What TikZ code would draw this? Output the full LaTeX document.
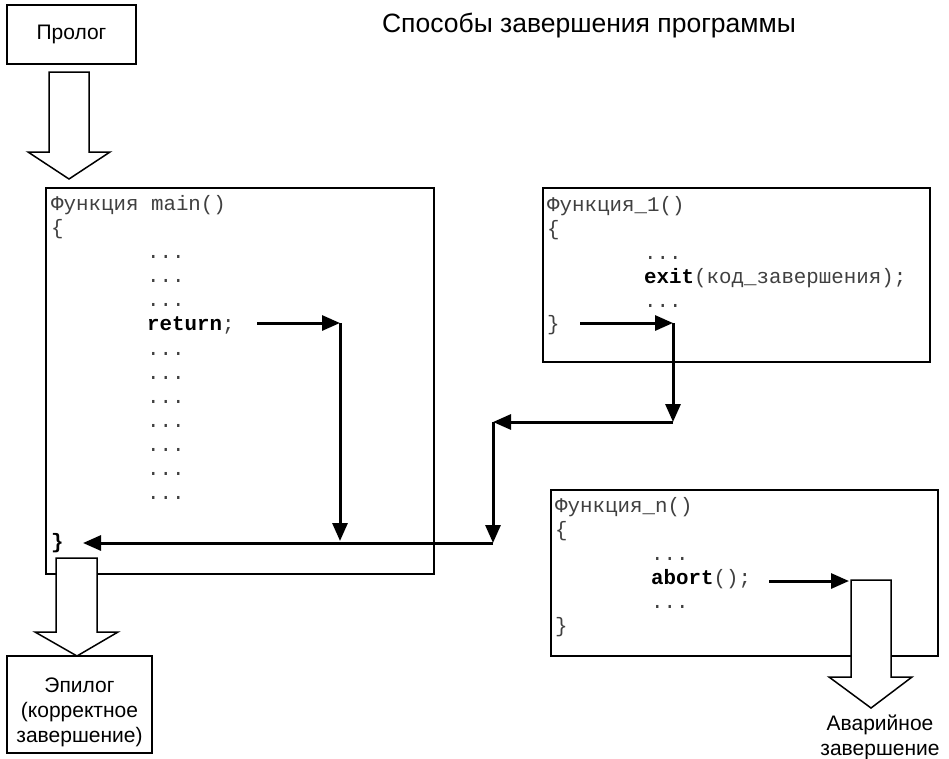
\documentclass[tikz,border=0pt]{standalone}
\usepackage{fontspec}
\setmainfont{Liberation Sans}
\setmonofont{Liberation Mono}
\usetikzlibrary{arrows.meta}

\tikzset{
  box/.style={draw, line width=1.5pt},
  code/.style={anchor=base west, inner sep=0pt, text=black!75, font=\fontsize{20.8}{24}\ttfamily},
  label/.style={inner sep=0pt, font=\fontsize{21}{25}\selectfont, align=center},
  flow/.style={line width=3pt, -{Triangle[length=18pt,width=15pt]}},
  fat/.style={draw, line width=1.5pt, fill=white},
}
\newcommand{\kw}[1]{\textcolor{black}{\textbf{#1}}}

\begin{document}
\begin{tikzpicture}[x=1pt, y=-1pt]
\useasboundingbox (0,0) rectangle (949,758);

% Title
\node[label, anchor=base, font=\fontsize{26.5}{30}\selectfont] (title) at (589,32) {Способы завершения программы};

% Prolog box and its arrow
\node[box, minimum width=129pt, minimum height=59pt, label] (prolog) at (71.5,34.5) {Пролог};
\draw[fat] (49,72) -- (89,72) -- (89,152) -- (110,152) -- (69,179) -- (28,152) -- (49,152) -- cycle;

% Function main()
\node[box, anchor=north west, minimum width=388pt, minimum height=386pt] (mainf) at (45,187) {};
\node[code] (m0) at (51,210) {Функция main()};
\node[code] (m1) at (51,234) {\{};
\node[code] (m2) at (147,258) {...};
\node[code] (m3) at (147,282) {...};
\node[code] (m4) at (147,306) {...};
\node[code] (mret) at (147,330) {\kw{return};};
\foreach \i/\y in {5/355,6/379,7/403,8/427,9/451,10/475,11/499}
  \node[code] (m\i) at (147,\y) {...};
\node[code] (mend) at (51,548) {\kw{\}}};

% Epilog arrow and box
\draw[fat] (56,558) -- (97,558) -- (97,632) -- (118,632) -- (77,656) -- (35,632) -- (56,632) -- cycle;
\node[box, minimum width=145pt, minimum height=97pt] (epilog) at (79.5,704.5) {};
% base of a multi-line node is its last line
\node[label, anchor=base] (epitext) at (79.5,742) {Эпилог\\(корректное\\завершение)};

% Function_1()
\node[box, anchor=north west, minimum width=387pt, minimum height=174pt] (f1) at (542,187) {};
\node[code] (a0) at (547,211) {Функция\_1()};
\node[code] (a1) at (547,235) {\{};
\node[code] (a2) at (644,259) {...};
\node[code] (aexit) at (644,283) {\kw{exit}(код\_завершения);};
\node[code] (a4) at (644,307) {...};
\node[code] (aend) at (547,330) {\}};

% Function_n()
\node[box, anchor=north west, minimum width=387pt, minimum height=166pt] (fn) at (550,489) {};
\node[code] (n0) at (555,512) {Функция\_n()};
\node[code] (n1) at (555,536) {\{};
\node[code] (n2) at (651,560) {...};
\node[code] (nabort) at (651,584) {\kw{abort}();};
\node[code] (n4) at (651,608) {...};
\node[code] (nend) at (555,632) {\}};

% Abort arrow and label
\draw[fat] (851,580) -- (891,580) -- (891,677) -- (912,677) -- (871,708) -- (829,677) -- (851,677) -- cycle;
\node[label, anchor=base] (crash) at (880,755) {Аварийное\\завершение};

% Corners of the return paths
\coordinate (r0) at (257,323);
\coordinate (r1) at (340,323);
\coordinate (r2) at (340,541);
\coordinate (back) at (83,543);
\coordinate (e0) at (580,323);
\coordinate (e1) at (673,323);
\coordinate (e2) at (673,422);
\coordinate (e3) at (493,422);
\coordinate (e4) at (493,543);
\coordinate (b0) at (769,581);
\coordinate (b1) at (849,581);

% Draw the flow arrows
\draw[flow] (r0) -- (r1);
\draw[flow] (r1) -- (r2);
\draw[flow] (e0) -- (e1);
\draw[flow] (e1) -- (e2);
\draw[flow] (e2) -- (e3);
\draw[flow] (e3) -- (e4);
\draw[flow] (e4) -- (back);
\draw[flow] (b0) -- (b1);

\end{tikzpicture}
\end{document}
